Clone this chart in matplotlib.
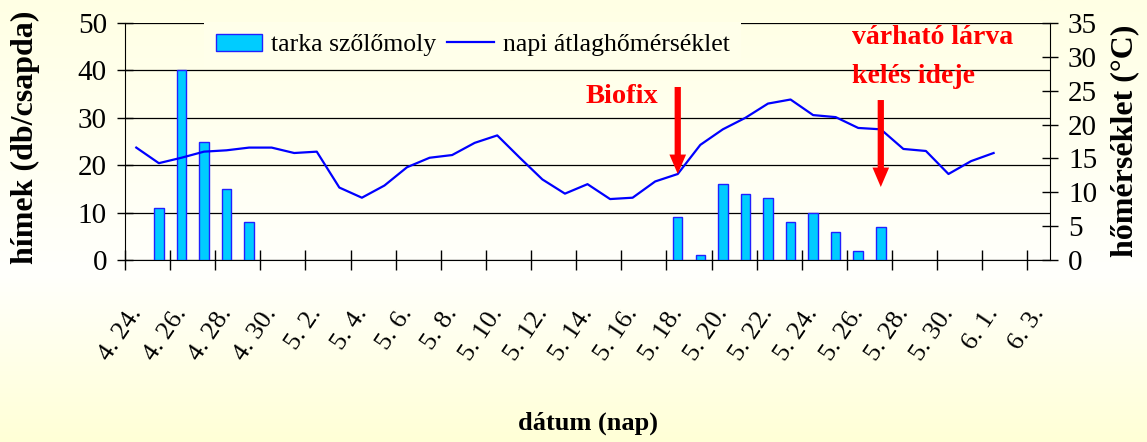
import numpy as np
import matplotlib
matplotlib.use("Agg")
import matplotlib.pyplot as plt
from matplotlib.colors import LinearSegmentedColormap
from matplotlib.patches import Patch
from matplotlib.lines import Line2D
import matplotlib.transforms as mtransforms

plt.rcParams["font.family"] = ["Liberation Serif", "DejaVu Serif"]

# categories: every day from 4.24 to 6.3
days = ["4. 24.", "4. 25.", "4. 26.", "4. 27.", "4. 28.", "4. 29.", "4. 30.",
        "5. 1.", "5. 2.", "5. 3.", "5. 4.", "5. 5.", "5. 6.", "5. 7.", "5. 8.",
        "5. 9.", "5. 10.", "5. 11.", "5. 12.", "5. 13.", "5. 14.", "5. 15.",
        "5. 16.", "5. 17.", "5. 18.", "5. 19.", "5. 20.", "5. 21.", "5. 22.",
        "5. 23.", "5. 24.", "5. 25.", "5. 26.", "5. 27.", "5. 28.", "5. 29.",
        "5. 30.", "5. 31.", "6. 1.", "6. 2.", "6. 3."]

# daily mean temperature (°C), 4.24 - 6.1
temps = [16.6, 14.3, 15.1, 16.0, 16.2, 16.6, 16.6, 15.8, 16.0, 10.7,
         9.2, 11.0, 13.7, 15.1, 15.5, 17.3, 18.4, 15.1, 11.9, 9.8,
         11.2, 9.0, 9.2, 11.6, 12.7, 17.0, 19.3, 21.0, 23.1, 23.7,
         21.4, 21.1, 19.5, 19.3, 16.4, 16.1, 12.7, 14.6, 15.8]

# trap catches (males / trap)
catch_days = ["4. 25.", "4. 26.", "4. 27.", "4. 28.", "4. 29.",
              "5. 18.", "5. 19.", "5. 20.", "5. 21.", "5. 22.",
              "5. 23.", "5. 24.", "5. 25.", "5. 26.", "5. 27."]
catches = [11, 40, 25, 15, 8, 9, 1, 16, 14, 13, 8, 10, 6, 2, 7]

biofix_day = "5. 18."
larva_day = "5. 27."

BAR_COLOR = "#00CCFF"
BAR_EDGE = "#2020FF"
LINE_COLOR = "#0000FF"

fig = plt.figure(figsize=(11.47, 4.42), dpi=100)

# background gradient
bg = fig.add_axes([0, 0, 1, 1], zorder=-5)
cmap = LinearSegmentedColormap.from_list(
    "bg", [(0.0, "#FFFFE4"), (0.62, "#FFFFFC"), (1.0, "#FFFFD6")])
bg.imshow(np.linspace(0, 1, 256).reshape(-1, 1), aspect="auto", cmap=cmap,
          extent=[0, 1, 0, 1])
bg.axis("off")

ax = fig.add_axes([125 / 1147, 1 - 260 / 442, 925 / 1147, 237 / 442])
ax.patch.set_visible(False)
ax2 = ax.twinx()
ax2.patch.set_visible(False)

n = len(days)
x_bar = [days.index(d) + 0.5 for d in catch_days]
ax.bar(x_bar, catches, width=0.42, color=BAR_COLOR, edgecolor=BAR_EDGE,
       linewidth=1, zorder=3)

x_line = np.arange(len(temps)) + 0.5
ax2.plot(x_line, temps, color=LINE_COLOR, lw=1.6, zorder=4)

ax.set_xlim(0, n)
ax.set_ylim(0, 50)
ax2.set_ylim(0, 35)
ax.set_yticks(range(0, 51, 10))
ax2.set_yticks(range(0, 36, 5))

ax.yaxis.grid(True, color="black", lw=0.9)
ax.set_axisbelow(True)

for a in (ax, ax2):
    a.spines["top"].set_visible(False)
ax2.spines["left"].set_visible(False)
ax2.spines["bottom"].set_visible(False)
ax.spines["right"].set_visible(False)

ax.tick_params(axis="y", direction="inout", length=12, width=1,
               labelsize=21, pad=7)
ax2.tick_params(axis="y", direction="inout", length=12, width=1,
                labelsize=21, pad=7)

# x: ticks between categories, labels on every second day
ax.set_xticks(range(0, n, 2))
ax.set_xticklabels([])
ax.set_xticks([i + 0.5 for i in range(0, n, 2)], minor=True)
ax.set_xticklabels(days[::2], minor=True, rotation=56, ha="right",
                   va="top", fontsize=19)
ax.tick_params(axis="x", which="major", direction="inout", length=14, width=1)
ax.tick_params(axis="x", which="minor", length=0, pad=31)
shift = mtransforms.ScaledTranslation(7 / 72, 0, fig.dpi_scale_trans)
for lab in ax.get_xticklabels(minor=True):
    lab.set_transform(lab.get_transform() + shift)

ax.set_xlabel("dátum (nap)", fontsize=19, fontweight="bold", va="center")
ax.xaxis.set_label_coords(0.5, -0.688)
ax.set_ylabel("hímek (db/csapda)", fontsize=23, fontweight="bold",
              va="center", ha="center")
ax.yaxis.set_label_coords(-0.108, 0.517)
ax2.set_ylabel("hőmérséklet (°C)", fontsize=23, fontweight="bold",
               va="center", ha="center")
ax2.yaxis.set_label_coords(1.081, 0.502)

# annotations
arrow_style = "simple,head_length=1.4,head_width=1.2,tail_width=0.45"
bx = days.index(biofix_day) + 0.5
ax2.annotate("", xy=(bx, temps[days.index(biofix_day)]), xycoords="data",
             xytext=(bx, 0.73), textcoords=("data", "axes fraction"),
             arrowprops=dict(arrowstyle=arrow_style, mutation_scale=10,
                             color="red", lw=0, shrinkA=0, shrinkB=0),
             zorder=6)
ax2.annotate("Biofix", xy=(bx, 0.688), xycoords=("data", "axes fraction"),
             xytext=(-14, 0), textcoords="offset points", ha="right",
             va="center", color="red", fontsize=20.5, fontweight="bold")

lx = days.index(larva_day) + 0.5
ax2.annotate("", xy=(lx, 0.308), xycoords=("data", "axes fraction"),
             xytext=(lx, 0.675), textcoords=("data", "axes fraction"),
             arrowprops=dict(arrowstyle=arrow_style, mutation_scale=10,
                             color="red", lw=0, shrinkA=0, shrinkB=0),
             zorder=6)
ax2.annotate("várható lárva\nkelés ideje", xy=(lx, 0.857),
             xycoords=("data", "axes fraction"), xytext=(-21, 0),
             textcoords="offset points", ha="left", va="center",
             color="red", fontsize=20, fontweight="bold", linespacing=1.7)

handles = [Patch(facecolor=BAR_COLOR, edgecolor=BAR_EDGE, lw=1),
           Line2D([], [], color=LINE_COLOR, lw=1.6)]
leg = ax2.legend(handles, ["tarka szőlőmoly", "napi átlaghőmérséklet"],
                 loc="center left", bbox_to_anchor=(204 / 1147, 1 - 45 / 442),
                 bbox_transform=fig.transFigure, ncol=2, fontsize=18.5,
                 handlelength=1.8, handletextpad=0.35, columnspacing=0.45,
                 borderaxespad=0, borderpad=0.45, fancybox=False,
                 frameon=True, framealpha=1)
leg.get_frame().set_facecolor("#FFFFEA")
leg.get_frame().set_edgecolor("none")

fig.savefig("out.png", dpi=100)
